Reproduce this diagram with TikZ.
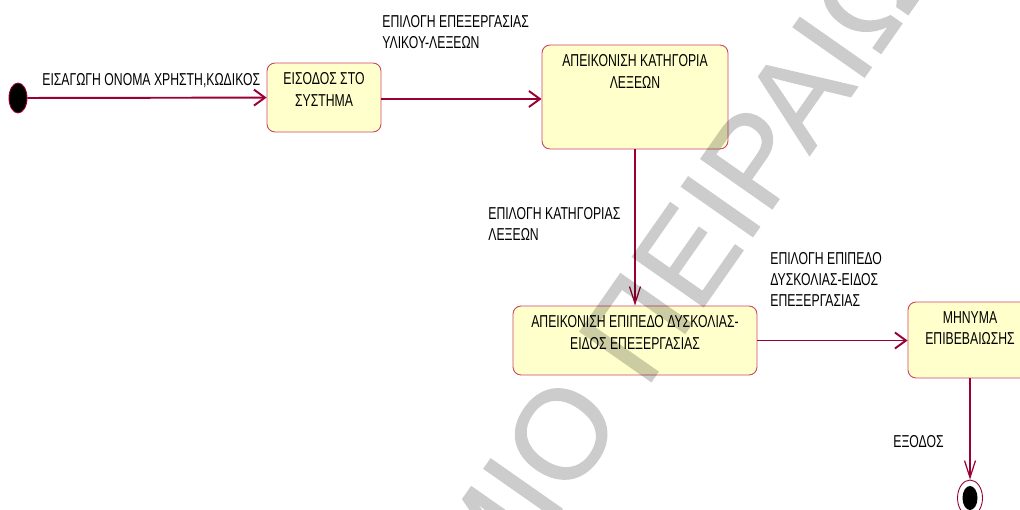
\documentclass[tikz,border=0pt]{standalone}
\usepackage{fontspec}
\setmainfont{Liberation Sans}
\newfontfamily\narrowfont[FakeStretch=0.71]{Liberation Sans}
\newfontfamily\stampfont[FakeBold=1]{Liberation Sans}
\usetikzlibrary{arrows.meta,shapes.geometric}
\definecolor{rosered}{RGB}{153,0,51}
\definecolor{roseline}{RGB}{204,68,102}
\definecolor{rosefill}{RGB}{255,255,204}
\newcommand{\lbl}{\narrowfont\fontsize{9.8}{12}\selectfont}
\tikzset{
  state/.style={draw=roseline,fill=rosefill,rounded corners=0.16cm,line width=0.5pt,inner sep=0},
  statetext/.style={anchor=north,align=center,inner sep=0,yshift=-0.2cm,font=\lbl},
  hflow/.style={rosered,line width=1.1pt,-{Straight Barb[length=0.22cm,width=0.32cm]}},
  vflow/.style={rosered,line width=0.7pt,-{Straight Barb[length=0.34cm,width=0.22cm]}},
  flowtext/.style={anchor=north west,align=left,inner sep=0,font=\lbl},
  startdot/.style={ellipse,fill=black,draw=rosered,line width=0.5pt,inner sep=0,minimum width=0.36cm,minimum height=0.6cm},
  endring/.style={ellipse,draw=rosered,line width=0.5pt,inner sep=0,minimum width=0.5cm,minimum height=0.72cm},
  enddot/.style={ellipse,fill=black,inner sep=0,minimum width=0.3cm,minimum height=0.48cm},
  stamp/.style={inner sep=0,text=black,font=\stampfont\fontsize{72}{72}\selectfont}
}
\begin{document}
\begin{tikzpicture}[x=0.02cm,y=-0.02cm]
   \useasboundingbox (0,0) rectangle (1020,510);
   \clip (0,0) rectangle (1020,510);
   \node[startdot] (start) at (18,98) {};
   \node[state,minimum width=2.28cm,minimum height=1.38cm,
     label={[statetext,name=entrytext]north:{ΕΙΣΟΔΟΣ ΣΤΟ\\ΣΥΣΤΗΜΑ}}] (entry) at (324,97.5) {};
   \node[state,minimum width=3.72cm,minimum height=2.08cm,
     label={[statetext,name=categorytext]north:{ΑΠΕΙΚΟΝΙΣΗ ΚΑΤΗΓΟΡΙΑ\\ΛΕΞΕΩΝ}}] (category) at (635,97) {};
   \node[state,minimum width=4.88cm,minimum height=1.38cm,
     label={[statetext,name=leveltext]north:{ΑΠΕΙΚΟΝΙΣΗ ΕΠΙΠΕΔΟ ΔΥΣΚΟΛΙΑΣ-\\ΕΙΔΟΣ ΕΠΕΞΕΡΓΑΣΙΑΣ}}] (level) at (635,340.5) {};
   \node[state,minimum width=2.48cm,minimum height=1.52cm,
     label={[statetext,name=messagetext]north:{ΜΗΝΥΜΑ\\ΕΠΙΒΕΒΑΙΩΣΗΣ}}] (message) at (970,340) {};
   \node[endring] (end) at (970,498) {};
   \node[enddot] (endcore) at (970,498) {};
   \draw[hflow] (start) -- (entry);
   \draw[hflow] (entry.east |- 0,99) -- (category.west |- 0,99);
   \draw[vflow] (category) -- (level);
   \draw[hflow] (level) -- (message.west |- level);
   \draw[vflow] (message) -- (end);
   \node[flowtext] (login) at (42,73) {ΕΙΣΑΓΩΓΗ ΟΝΟΜΑ ΧΡΗΣΤΗ,ΚΩΔΙΚΟΣ};
   \node[flowtext] (pickwork) at (382,15) {ΕΠΙΛΟΓΗ ΕΠΕΞΕΡΓΑΣΙΑΣ\\ΥΛΙΚΟΥ-ΛΕΞΕΩΝ};
   \node[flowtext] (pickcat) at (488,207) {ΕΠΙΛΟΓΗ ΚΑΤΗΓΟΡΙΑΣ\\ΛΕΞΕΩΝ};
   \node[flowtext] (picklevel) at (770,252) {ΕΠΙΛΟΓΗ ΕΠΙΠΕΔΟ\\ΔΥΣΚΟΛΙΑΣ-ΕΙΔΟΣ\\ΕΠΕΞΕΡΓΑΣΙΑΣ};
   \node[flowtext] (leave) at (893,435) {ΕΞΟΔΟΣ};
   \begin{scope}[transparency group,opacity=0.2]
   \node[stamp,rotate=55,anchor=base east] (mark) at (569,499) {ΠΑΝΕΠΙΣΤΗΜΙ\rlap{Ο ΠΕΙΡΑΙΩΣ}};
   \end{scope}
\end{tikzpicture}
\end{document}
